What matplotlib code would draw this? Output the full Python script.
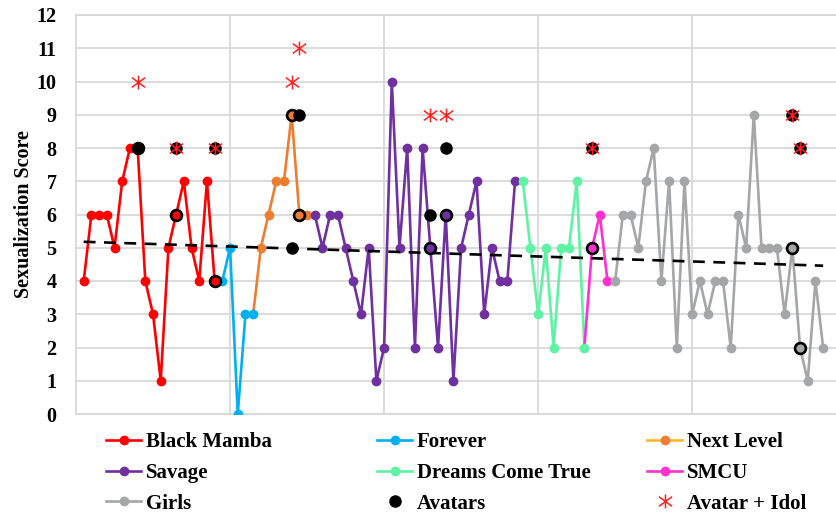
import matplotlib
matplotlib.use("Agg")
import matplotlib.pyplot as plt
from matplotlib.lines import Line2D
from matplotlib.path import Path
import numpy as np

# ---------------- data ----------------
song_names = ["Black Mamba", "Forever", "Next Level", "Savage",
              "Dreams Come True", "SMCU", "Girls"]
song_colors = ["#FF0000", "#00B0F0", "#ED7D31", "#7030A0",
               "#5EF2A4", "#FF2FD0", "#A5A6A8"]

black_mamba = [4, 6, 6, 6, 5, 7, 8, 8, 4, 3, 1, 5, 6, 7, 5, 4, 7, 4]
forever = [4, 5, 0, 3, 3]
next_level = [5, 6, 7, 7, 9, 6, 6]
savage = [6, 5, 6, 6, 5, 4, 3, 5, 1, 2, 10, 5, 8, 2, 8, 5, 2, 6, 1, 5,
          6, 7, 3, 5, 4, 4, 7]
dreams_come_true = [7, 5, 3, 5, 2, 5, 5, 7, 2]
smcu = [5, 6, 4]
girls = [4, 6, 6, 5, 7, 8, 4, 7, 2, 7, 3, 4, 3, 4, 4, 2, 6, 5, 9, 5,
         5, 5, 3, 5, 2, 1, 4, 2]
song_values = [black_mamba, forever, next_level, savage,
               dreams_come_true, smcu, girls]

# avatar scenes (x = scene index along the axis)
avatar_x = [8, 13, 18, 28, 29, 46, 48, 67, 93, 94]
avatar_y = [8, 8, 8, 5, 9, 6, 8, 8, 9, 8]
# avatar also scored on the song line itself (drawn as ring)
avatar_on_line_x = [8, 13, 18, 28, 29, 46, 48, 67, 93, 94]
# avatar + idol scenes
idol_x = [8, 13, 18, 28, 29, 46, 48, 67, 93, 94]
idol_y = [10, 8, 8, 10, 11, 9, 9, 8, 9, 8]

# linear trend line (as shown in the chart)
trend_x = [1, 97]
trend_y = [5.18, 4.46]

y_ticks = list(range(0, 13))

# ---------------- figure ----------------
W, H = 837, 517
fig = plt.figure(figsize=(W / 100, H / 100), dpi=100)
ax = fig.add_axes([76 / W, 103 / H, 761 / W, 399 / H])

serif = ["Liberation Serif", "DejaVu Serif"]
grid_c = "#D9D9D9"
FS = 15

star = Path([(0, -1), (0, 1), (-0.95, -0.7), (0.95, 0.7),
             (-0.95, 0.7), (0.95, -0.7)],
            [Path.MOVETO, Path.LINETO, Path.MOVETO, Path.LINETO,
             Path.MOVETO, Path.LINETO])

all_x, all_y, x_color = [], [], {}
start = 1
prev = None
handles = []
for name, vals, c in zip(song_names, song_values, song_colors):
    xs = list(range(start, start + len(vals)))
    ys = list(vals)
    for xx in xs:
        x_color[xx] = c
    all_x += xs
    all_y += ys
    if prev is not None:
        lx, ly = [prev[0]] + xs, [prev[1]] + ys
    else:
        lx, ly = xs, ys
    ax.plot(lx, ly, color=c, lw=1.9, zorder=3)
    ax.plot(xs, ys, ls="none", marker="o", ms=6, color=c, zorder=4)
    lc = "#FFB52E" if name == "Next Level" else c
    handles.append(Line2D([], [], color=lc, lw=1.9, marker="o", ms=6,
                          mfc=c, mec=c))
    prev = (xs[-1], ys[-1])
    start += len(vals)

all_x = np.array(all_x)
all_y = np.array(all_y, dtype=float)

# trend line
ax.plot(trend_x, trend_y, color="black", lw=1.9, ls=(0, (4.5, 3.2)),
        zorder=5)

# rings: avatar on the song line
ring_y = [all_y[all_x == xx][0] for xx in avatar_on_line_x]
for xx, yy in zip(avatar_on_line_x, ring_y):
    ax.plot([xx], [yy], ls="none", marker="o", ms=7.8, mfc=x_color[xx],
            mec="black", mew=1.9, zorder=6)

# avatars (full dots)
ax.plot(avatar_x, avatar_y, ls="none", marker="o", ms=8, color="black",
        zorder=7)
# avatar + idol stars
ax.plot(idol_x, idol_y, ls="none", marker=star, ms=10, mew=1.1,
        color="#FF2020", zorder=8)

h_av = Line2D([], [], ls="none", marker="o", ms=8, color="black")
h_id = Line2D([], [], ls="none", marker=star, ms=10, mew=1.1,
              color="#FF2020")

# axes styling
ax.set_xlim(0, 98.8)
ax.set_ylim(0, 12)
ax.set_yticks(y_ticks)
ax.set_yticklabels([str(t) for t in y_ticks], family=serif,
                   fontweight="bold", fontsize=14.5)
ax.set_xticks([20, 40, 60, 80])
ax.tick_params(axis="both", length=0)
ax.tick_params(axis="x", labelbottom=False)
ax.tick_params(axis="y", pad=14)
ax.grid(True, color=grid_c, lw=1.3, zorder=0)
ax.set_axisbelow(True)
ax.spines["right"].set_visible(False)
for s in ["left", "bottom", "top"]:
    ax.spines[s].set_color(grid_c)
    ax.spines[s].set_linewidth(1.3)
ax.set_ylabel("Sexualization Score", family=serif, fontweight="bold",
              fontsize=14.5, labelpad=2)

# legend in three columns
cols = [
    ([handles[0], handles[3], handles[6]],
     [song_names[0], song_names[3], song_names[6]], 106),
    ([handles[1], handles[4], h_av],
     [song_names[1], song_names[4], "Avatars"], 377),
    ([handles[2], handles[5], h_id],
     [song_names[2], song_names[5], "Avatar + Idol"], 647),
]
for hs, ls_, xpx in cols:
    fig.legend(hs, ls_, loc="upper left",
               bbox_to_anchor=(xpx / W, (H - 432) / H),
               frameon=False, borderpad=0, borderaxespad=0,
               handlelength=1.7, handletextpad=0.2,
               labelspacing=0.52, numpoints=1,
               prop={"family": serif, "weight": "bold", "size": FS})

fig.savefig("out.png", dpi=100)
